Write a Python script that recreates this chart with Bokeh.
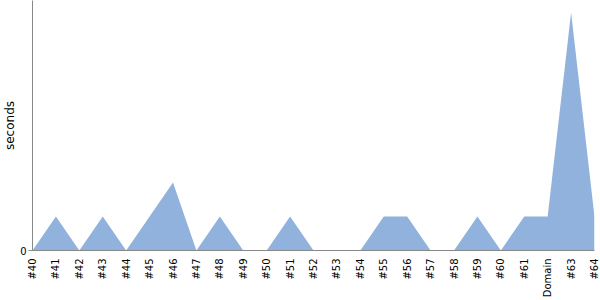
import math
from bokeh.plotting import figure
from bokeh.models import Range1d, FixedTicker
from bokeh.embed import file_html
from bokeh.resources import INLINE

categories = ["#40", "#41", "#42", "#43", "#44", "#45", "#46", "#47", "#48", "#49",
              "#50", "#51", "#52", "#53", "#54", "#55", "#56", "#57", "#58", "#59",
              "#60", "#61", "Domain", "#63", "#64"]
seconds = [0, 1, 0, 1, 0, 1, 2, 0, 1, 0,
           0, 1, 0, 0, 0, 1, 1, 0, 0, 1,
           0, 1, 1, 7, 1]
y_ticks = [0]

xs = list(range(len(categories)))

p = figure(width=600, height=300, output_backend="svg", toolbar_location=None,
           x_range=Range1d(0, len(categories) - 1), y_range=Range1d(0, 7.35),
           min_border_left=0, min_border_right=6, min_border_top=0, min_border_bottom=0)
p.varea(x=xs, y1=[0] * len(xs), y2=seconds, fill_color="#90B2DC", fill_alpha=1.0)

p.grid.visible = False
p.outline_line_color = None
p.background_fill_color = "white"
p.border_fill_color = "white"

xa = p.xaxis[0]
xa.ticker = FixedTicker(ticks=xs)
xa.major_label_overrides = {i: c for i, c in enumerate(categories)}
xa.major_label_orientation = math.pi / 2
xa.major_tick_line_color = None
xa.minor_tick_line_color = None
xa.axis_line_color = "#888888"
xa.major_label_text_font = "DejaVu Sans"
xa.major_label_text_font_size = "10px"
xa.major_label_text_color = "black"
xa.major_label_standoff = 2

ya = p.yaxis[0]
ya.ticker = FixedTicker(ticks=y_ticks)
ya.axis_label = "seconds"
ya.axis_label_text_font = "DejaVu Sans"
ya.axis_label_text_font_size = "12px"
ya.axis_label_text_font_style = "normal"
ya.axis_label_text_color = "black"
ya.axis_label_standoff = 0
ya.major_label_text_font = "DejaVu Sans"
ya.major_label_text_font_size = "10px"
ya.major_label_text_color = "black"
ya.major_tick_line_color = "#888888"
ya.major_tick_in = 0
ya.major_tick_out = 4
ya.minor_tick_line_color = None
ya.axis_line_color = "#888888"
ya.major_label_standoff = 2

open("out.html", "w").write(file_html(p, INLINE))
